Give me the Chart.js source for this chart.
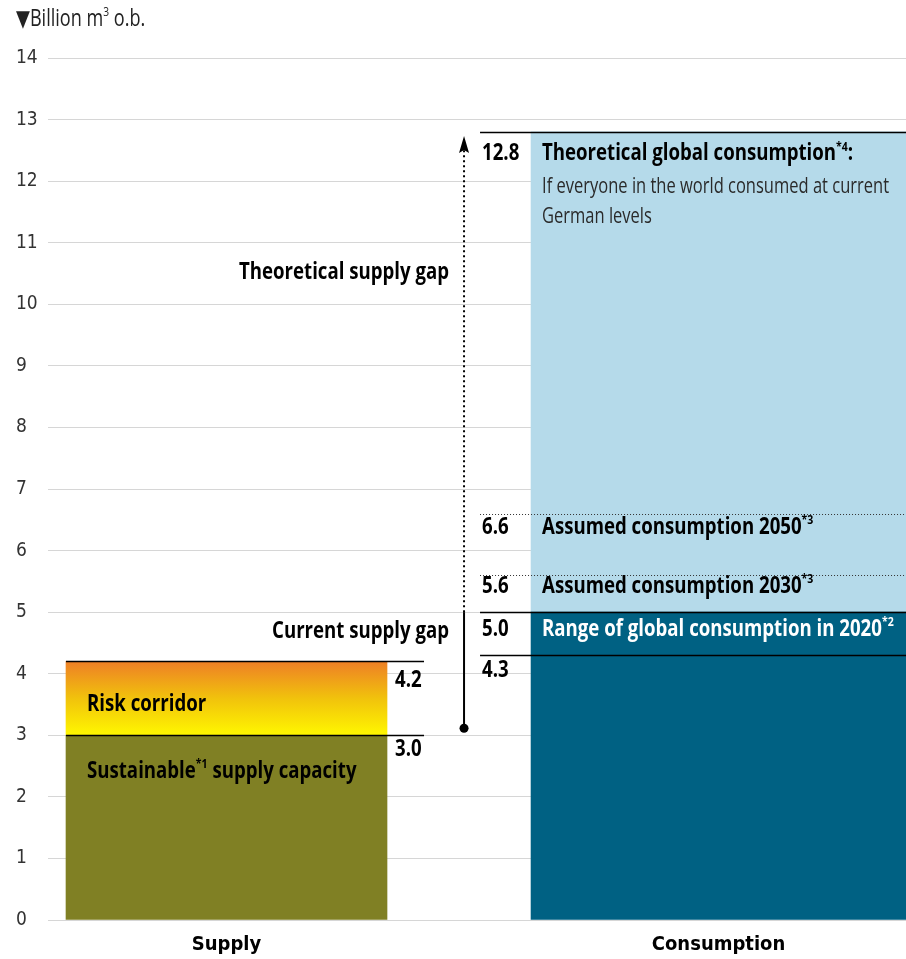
<!DOCTYPE html>
<html><head><meta charset="utf-8">
<script src="https://cdn.jsdelivr.net/npm/chart.js@4"></script>
<style>html,body{margin:0;padding:0;background:#fff;overflow:hidden}canvas{display:block}</style>
</head><body>
<canvas id="c" width="906" height="959"></canvas>
<script>
// ---- data ----
const categories = ['Supply', 'Consumption'];
const sustainableSupply = [0, 3.0];
const riskCorridor = [3.0, 4.2];
const consumption2020Base = [0, 4.3];
const consumption2020Range = [4.3, 5.0];
const theoreticalConsumption = [5.0, 12.8];
const assumedConsumption = [5.6, 6.6];      // 2030, 2050
const valueLabels = ['12.8', '6.6', '5.6', '5.0', '4.3', '4.2', '3.0'];
const yTicks = [0,1,2,3,4,5,6,7,8,9,10,11,12,13,14];

const FONT = "'Open Sans', 'DejaVu Sans', sans-serif";
const TICKFONT = "'DejaVu Sans Condensed', 'Open Sans', sans-serif";
Chart.defaults.font.family = TICKFONT;

let SX_B = 0.72, SX_R = 0.72;
function calib(ctx) {
  ctx.font = `bold 23px ${FONT}`;
  SX_B = 210 / ctx.measureText('Theoretical supply gap').width;
  ctx.font = `normal 21px ${FONT}`;
  SX_R = 347 / ctx.measureText('If everyone in the world consumed at current').width;
}

function drawSegs(ctx, x, y, segs, align) {
  let total = 0;
  const widths = segs.map(s => {
    ctx.font = `${s.w} ${s.s}px ${FONT}`;
    const sx = s.w === 'bold' ? SX_B : SX_R;
    const w = ctx.measureText(s.t).width * sx; total += w; return w;
  });
  let cx = align === 'right' ? x - total : x;
  segs.forEach((s, i) => {
    const sx = s.w === 'bold' ? SX_B : SX_R;
    ctx.save();
    ctx.font = `${s.w} ${s.s}px ${FONT}`;
    ctx.textAlign = 'left';
    ctx.textBaseline = 'middle';
    ctx.translate(cx, s.sup ? y - 7 : y);
    ctx.scale(sx, 1);
    ctx.fillText(s.t, 0, 0);
    ctx.restore();
    cx += widths[i];
  });
}

const annot = {
  id: 'annot',
  afterDatasetsDraw(chart) {
    const ctx = chart.ctx, ys = chart.scales.y;
    calib(ctx);
    const P = v => ys.getPixelForValue(v);
    const sBar = chart.getDatasetMeta(0).data[0];
    const cBar = chart.getDatasetMeta(2).data[0];
    const sL = sBar.x - sBar.width / 2, sR = sBar.x + sBar.width / 2;
    const cL = cBar.x - cBar.width / 2, cR = cBar.x + cBar.width / 2;
    const lineL = cL - 51;
    ctx.save();
    ctx.strokeStyle = '#000'; ctx.lineWidth = 1.3;
    [[riskCorridor[1], sL, sR + 37], [sustainableSupply[1], sL, sR + 37],
     [consumption2020Range[0], lineL, cR], [consumption2020Range[1], lineL, cR],
     [theoreticalConsumption[1], lineL, cR]].forEach(([v, a, b]) => {
      ctx.beginPath(); ctx.moveTo(a, Math.round(P(v)) + 0.5); ctx.lineTo(b, Math.round(P(v)) + 0.5); ctx.stroke();
    });
    ctx.strokeStyle = '#333'; ctx.lineWidth = 1; ctx.setLineDash([1, 2]);
    assumedConsumption.forEach(v => {
      ctx.beginPath(); ctx.moveTo(lineL, Math.round(P(v)) + 0.5); ctx.lineTo(cR, Math.round(P(v)) + 0.5); ctx.stroke();
    });
    // arrow
    const ax = cL - 67;
    ctx.setLineDash([]);
    ctx.strokeStyle = '#000';
    ctx.lineWidth = 2;
    ctx.beginPath(); ctx.moveTo(ax, P(sustainableSupply[1]) - 7); ctx.lineTo(ax, P(consumption2020Range[1])); ctx.stroke();
    ctx.fillStyle = '#000';
    ctx.beginPath(); ctx.arc(ax, P(sustainableSupply[1]) - 7, 4.5, 0, Math.PI * 2); ctx.fill();
    ctx.setLineDash([2, 3]);
    ctx.beginPath(); ctx.moveTo(ax, P(consumption2020Range[1])); ctx.lineTo(ax, P(theoreticalConsumption[1]) + 18); ctx.stroke();
    ctx.setLineDash([]);
    const tip = P(theoreticalConsumption[1]) + 4;
    ctx.beginPath(); ctx.moveTo(ax, tip); ctx.lineTo(ax - 5, tip + 17); ctx.lineTo(ax, tip + 14); ctx.lineTo(ax + 5, tip + 17); ctx.closePath(); ctx.fill();

    // texts
    ctx.fillStyle = '#000';
    const B = 23, R = 21, S = 13;
    drawSegs(ctx, ax - 15, P(10.52), [{t: 'Theoretical supply gap', w: 'bold', s: B}], 'right');
    drawSegs(ctx, ax - 15, P(4.69), [{t: 'Current supply gap', w: 'bold', s: B}], 'right');
    const vx = lineL + 2, tx = cL + 11;
    drawSegs(ctx, vx, P(theoreticalConsumption[1]) + 22, [{t: valueLabels[0], w: 'bold', s: B}]);
    drawSegs(ctx, tx, P(theoreticalConsumption[1]) + 22, [
      {t: 'Theoretical global consumption', w: 'bold', s: B}, {t: '*4', w: 'bold', s: S, sup: true}, {t: ':', w: 'bold', s: B}]);
    ctx.fillStyle = '#2a2a2a';
    drawSegs(ctx, tx, P(theoreticalConsumption[1]) + 55, [{t: 'If everyone in the world consumed at current', w: 'normal', s: R}]);
    drawSegs(ctx, tx, P(theoreticalConsumption[1]) + 85, [{t: 'German levels', w: 'normal', s: R}]);
    ctx.fillStyle = '#000';
    drawSegs(ctx, vx, P(assumedConsumption[1]) + 14, [{t: valueLabels[1], w: 'bold', s: B}]);
    drawSegs(ctx, tx, P(assumedConsumption[1]) + 14, [{t: 'Assumed consumption 2050', w: 'bold', s: B}, {t: '*3', w: 'bold', s: S, sup: true}]);
    drawSegs(ctx, vx, P(assumedConsumption[0]) + 11, [{t: valueLabels[2], w: 'bold', s: B}]);
    drawSegs(ctx, tx, P(assumedConsumption[0]) + 11, [{t: 'Assumed consumption 2030', w: 'bold', s: B}, {t: '*3', w: 'bold', s: S, sup: true}]);
    drawSegs(ctx, vx, P(consumption2020Range[1]) + 17, [{t: valueLabels[3], w: 'bold', s: B}]);
    ctx.fillStyle = '#fff';
    drawSegs(ctx, tx, P(consumption2020Range[1]) + 17, [{t: 'Range of global consumption in 2020', w: 'bold', s: B}, {t: '*2', w: 'bold', s: S, sup: true}]);
    ctx.fillStyle = '#000';
    drawSegs(ctx, vx, P(consumption2020Range[0]) + 15, [{t: valueLabels[4], w: 'bold', s: B}]);
    drawSegs(ctx, sR + 8, P(riskCorridor[1]) + 19, [{t: valueLabels[5], w: 'bold', s: B}]);
    drawSegs(ctx, sR + 8, P(sustainableSupply[1]) + 14, [{t: valueLabels[6], w: 'bold', s: B}]);
    drawSegs(ctx, sL + 21, P(3.5), [{t: 'Risk corridor', w: 'bold', s: B}]);
    drawSegs(ctx, sL + 21, P(2.42), [{t: 'Sustainable', w: 'bold', s: B}, {t: '*1', w: 'bold', s: S, sup: true}, {t: ' supply capacity', w: 'bold', s: B}]);
    ctx.fillStyle = '#222';
    drawSegs(ctx, 16, 19, [{t: '\u25BC', w: 'normal', s: 23}, {t: 'Billion m', w: 'normal', s: 23}, {t: '3', w: 'normal', s: 13, sup: true}, {t: ' o.b.', w: 'normal', s: 23}]);
    ctx.restore();
  }
};

function riskGradient(c) {
  const chart = c.chart, ys = chart.scales.y;
  if (!ys || !chart.chartArea) return '#f4c400';
  const g = chart.ctx.createLinearGradient(0, ys.getPixelForValue(riskCorridor[1]), 0, ys.getPixelForValue(riskCorridor[0]));
  g.addColorStop(0, '#ee7f26');
  g.addColorStop(0.5, '#f1c20c');
  g.addColorStop(1, '#fff700');
  return g;
}

new Chart(document.getElementById('c'), {
  type: 'bar',
  data: {
    datasets: [
      {label: 'Sustainable supply capacity', data: [{x: 0, y: sustainableSupply}], backgroundColor: '#808024', barThickness: 321},
      {label: 'Risk corridor', data: [{x: 0, y: riskCorridor}], backgroundColor: riskGradient, barThickness: 321},
      {label: 'Global consumption 2020', data: [{x: 1, y: consumption2020Base}], backgroundColor: '#006183', barThickness: 375},
      {label: 'Range of global consumption 2020', data: [{x: 1, y: consumption2020Range}], backgroundColor: '#006183', barThickness: 375},
      {label: 'Theoretical global consumption', data: [{x: 1, y: theoreticalConsumption}], backgroundColor: '#b5daea', barThickness: 375}
    ]
  },
  options: {
    responsive: false,
    animation: false,
    datasets: {bar: {grouped: false}},
    layout: {padding: {left: 16, top: 58, right: 0, bottom: 0}},
    scales: {
      x: {
        type: 'linear', min: -0.3628, max: 1.381, offset: false,
        grid: {display: false}, border: {display: false},
        afterBuildTicks: s => { s.ticks = categories.map((c, i) => ({value: i})); },
        afterFit: s => { s.height = 39; },
        ticks: {callback: v => categories[v], font: {size: 20, weight: 'bold'}, color: '#000', padding: 5, maxRotation: 0, autoSkip: false}
      },
      y: {
        min: 0, max: 14,
        afterBuildTicks: s => { s.ticks = yTicks.map(v => ({value: v})); },
        ticks: {crossAlign: 'far', padding: 0, font: {size: 19}, color: '#333'},
        grid: {color: '#d6d6d6', drawTicks: false},
        border: {display: false},
        afterFit: s => { s.width = 32; }
      }
    },
    plugins: {legend: {display: false}, tooltip: {enabled: false}}
  },
  plugins: [annot]
});
</script>
</body></html>
